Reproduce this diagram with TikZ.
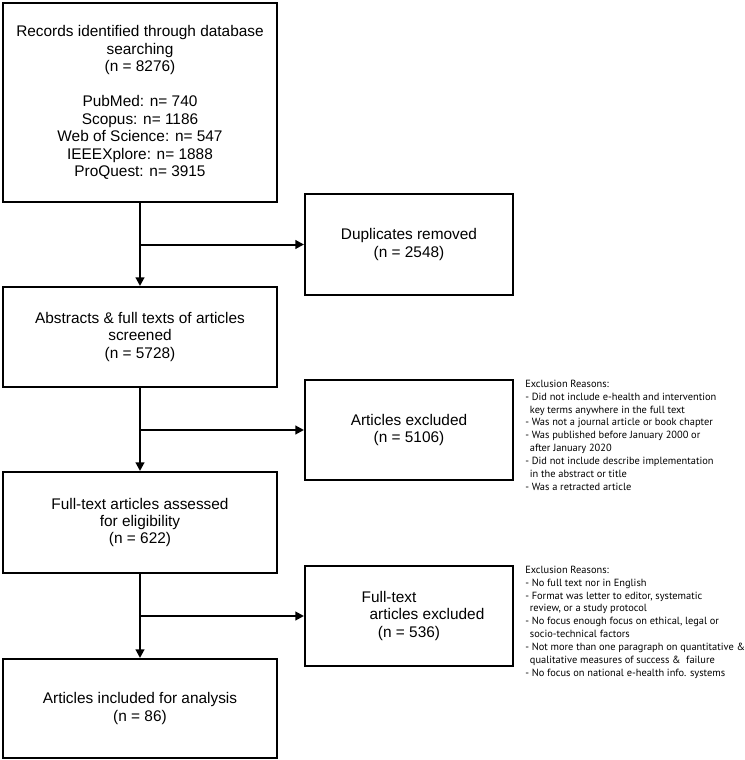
\documentclass[tikz,border=0pt]{standalone}
\usepackage{fontspec}
\setmainfont{Liberation Sans}
\newfontfamily\exfont{PT Sans}
\usetikzlibrary{arrows.meta}
\tikzset{
  box/.style={draw, line width=1.5pt, align=center, inner sep=2pt,
    font=\fontsize{11.55}{13.1}\selectfont},
  lbox/.style={box, minimum width=205.5pt},
  rbox/.style={box, minimum width=156pt},
  arr/.style={line width=1.5pt, -{Triangle[length=6.5pt,width=6.5pt]}},
  reasons/.style={anchor=north west, inner sep=0pt, align=left,
    font=\exfont\fontsize{7.8}{9.7}\selectfont}
}
\begin{document}
\begin{tikzpicture}[x=0.75pt,y=-0.75pt]
\useasboundingbox (0,0) rectangle (744,760);
\node[lbox, minimum height=149.25pt] (rec) at (140,102.5)
  {Records identified through database\\searching\\(n = 8276)\\[13.1pt]
   PubMed: n= 740\\Scopus: n= 1186\\Web of Science: n= 547\\IEEEXplore: n= 1888\\ProQuest: n= 3915};
\node[rbox, minimum height=75.75pt] (dup) at (409,244.5) {Duplicates removed\\(n = 2548)};
\node[lbox, minimum height=75pt] (abs) at (140,337) {Abstracts \& full texts of articles\\screened\\(n = 5728)};
\node[rbox, minimum height=75pt] (exa) at (409,430) {Articles excluded\\(n = 5106)};
\node[lbox, minimum height=75.75pt] (full) at (140,522.5) {Full-text articles assessed\\for eligibility\\(n = 622)};
\node[rbox, minimum height=75pt] (exb) at (409,616)
  {Full-text\hspace*{30pt}\\\hspace*{27pt}articles excluded\\(n = 536)};
\node[lbox, minimum height=74.25pt] (inc) at (140,708.5) {Articles included for analysis\\(n = 86)};

\draw[arr] (rec.south) -- (abs.north);
\draw[arr] (abs.south) -- (full.north);
\draw[arr] (full.south) -- (inc.north);
\draw[arr] (rec.south |- dup.west) -- (dup.west);
\draw[arr] (abs.south |- exa.west) -- (exa.west);
\draw[arr] (full.south |- exb.west) -- (exb.west);

\node[reasons] (ra) at (525,379.5) {Exclusion Reasons:\\
- Did not include e-health and intervention\\
\hspace*{0.45em}key terms anywhere in the full text\\
- Was not a journal article or book chapter\\
- Was published before January 2000 or\\
\hspace*{0.45em}after January 2020\\
- Did not include describe implementation\\
\hspace*{0.45em}in the abstract or title\\
- Was a retracted article};
\node[reasons] (rb) at (525,565.5) {Exclusion Reasons:\\
- No full text nor in English\\
- Format was letter to editor, systematic\\
\hspace*{0.45em}review, or a study protocol\\
- No focus enough focus on ethical, legal or\\
\hspace*{0.45em}socio-technical factors\\
- Not more than one paragraph on quantitative \&\\
\hspace*{0.45em}qualitative measures of success \&\ \ failure\\
- No focus on national e-health info. systems};
\end{tikzpicture}
\end{document}
